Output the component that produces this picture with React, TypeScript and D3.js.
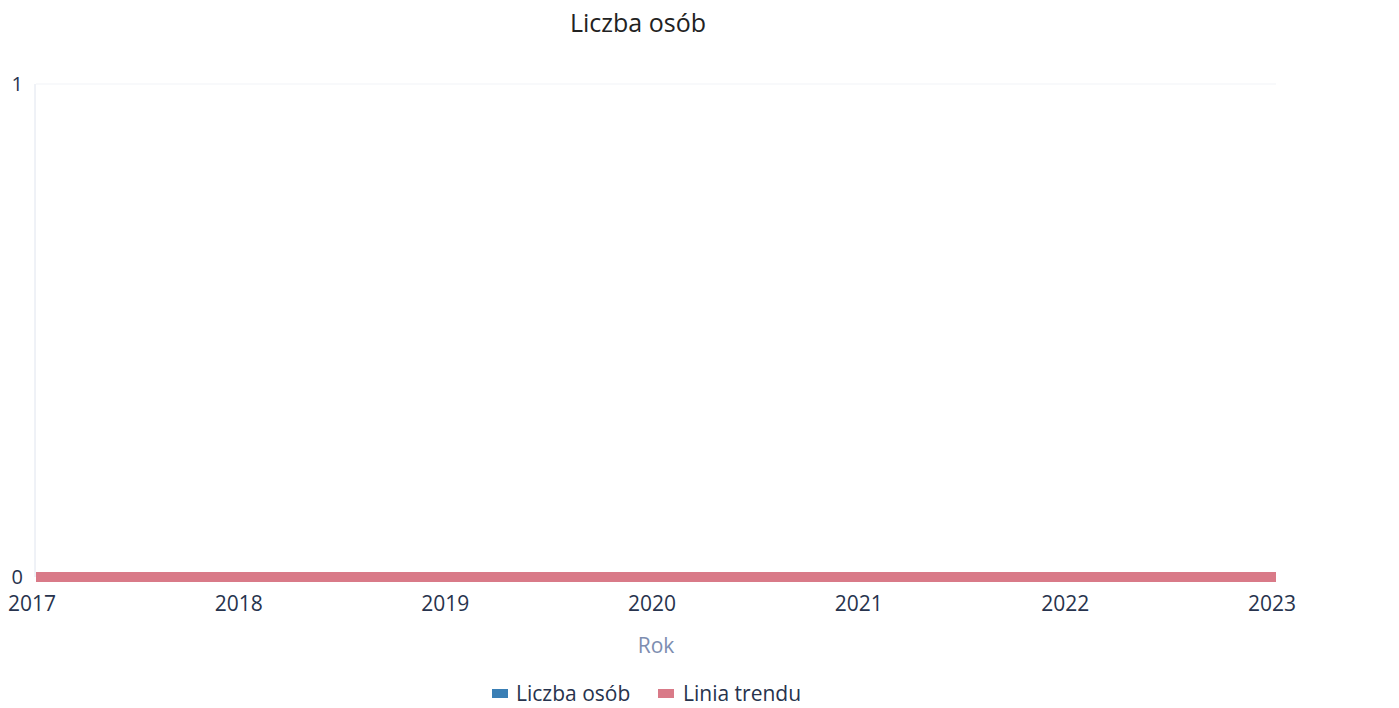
import React from "react";
import * as d3 from "d3";

const years = [2017, 2018, 2019, 2020, 2021, 2022, 2023];
const liczbaOsob = [0, 0, 0, 0, 0, 0, 0];
const liniaTrendu = [0, 0, 0, 0, 0, 0, 0];
const yTicks = [0, 1];
const title = "Liczba osób";
const xTitle = "Rok";
const seriesNames = ["Liczba osób", "Linia trendu"];
const seriesColors = ["#3a7fb5", "#d97a88"];

const W = 1399;
const H = 708;
const FONT = "'Open Sans', 'Noto Sans', sans-serif";

export default function App() {
  const x = d3.scaleLinear().domain([2017, 2023]).range([36, 1276]);
  const y = d3.scaleLinear().domain([0, 1]).range([577, 84]);
  const line = d3
    .line<number>()
    .x((_, i) => x(years[i]))
    .y((d) => y(d));

  return (
    <svg
      width={W}
      height={H}
      style={{ position: "absolute", left: 0, top: 0, background: "#fff" }}
      fontFamily={FONT}
    >
      <text x={638} y={32} textAnchor="middle" fontSize={25} fill="#222">
        {title}
      </text>
      <line x1={x(2017)} x2={x(2023)} y1={y(1)} y2={y(1)} stroke="#f1f3f7" strokeWidth={1} />
      <line x1={35} x2={35} y1={y(1)} y2={y(0)} stroke="#dfe4ee" strokeWidth={1} />
      {yTicks.map((t) => (
        <text
          key={t}
          x={23}
          y={y(t) + 7}
          textAnchor="end"
          fontSize={20}
          fill="#27334d"
        >
          {t}
        </text>
      ))}
      {years.map((yr) => (
        <text
          key={yr}
          x={x(yr) - 4}
          y={611}
          textAnchor="middle"
          fontSize={21}
          fill="#27334d"
        >
          {yr}
        </text>
      ))}
      <text x={656} y={653} textAnchor="middle" fontSize={21} fill="#7d8db0">
        {xTitle}
      </text>
      <path d={line(liczbaOsob) || ""} fill="none" stroke={seriesColors[0]} strokeWidth={3} />
      <path d={line(liniaTrendu) || ""} fill="none" stroke={seriesColors[1]} strokeWidth={10} />
      <rect x={492} y={689} width={16} height={9} fill={seriesColors[0]} />
      <text x={516} y={701} fontSize={21} fill="#27334d">
        {seriesNames[0]}
      </text>
      <rect x={658} y={689} width={16} height={9} fill={seriesColors[1]} />
      <text x={683} y={701} fontSize={21} fill="#27334d">
        {seriesNames[1]}
      </text>
    </svg>
  );
}
